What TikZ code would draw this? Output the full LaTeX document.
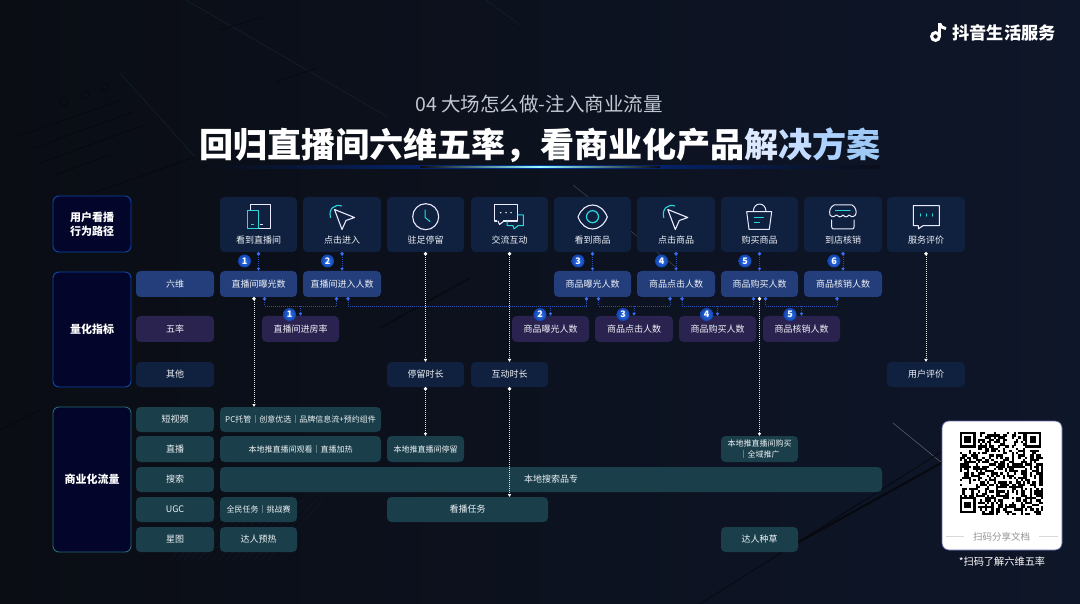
\documentclass[tikz,border=0pt]{standalone}
\usepackage{fontspec}
\setmainfont{Noto Sans CJK SC}
\usetikzlibrary{arrows.meta,calc}
\definecolor{bgL}{HTML}{0A0D14}
\definecolor{bgR}{HTML}{0E1629}
\definecolor{topbox}{HTML}{10203F}
\definecolor{sixbox}{HTML}{233E7A}
\definecolor{fivebox}{HTML}{2A2350}
\definecolor{trafbox}{HTML}{1A3F4A}
\definecolor{headfill}{HTML}{03062A}
\definecolor{headblue}{HTML}{0D47A8}
\definecolor{headteal}{HTML}{2A6B73}
\definecolor{linkblue}{HTML}{3A6CF0}
\definecolor{linkdim}{HTML}{2A4FB4}
\definecolor{txt}{HTML}{EEF1F6}
\definecolor{cy}{HTML}{2BD9DF}
\definecolor{sub}{HTML}{C2C8D2}
\definecolor{faint}{HTML}{161E30}
\definecolor{hatch}{HTML}{131A28}
\definecolor{shadow}{HTML}{07090F}
\definecolor{badgein}{HTML}{2F74F0}
\definecolor{badgeout}{HTML}{1244AE}
\tikzset{
  boxbase/.style={rounded corners=4.5pt,inner sep=0pt,outer sep=0pt,align=center,text=txt,font=\fontsize{9}{11.5}\selectfont},
  headbox/.style={boxbase,fill=headfill,draw=headblue,line width=.9pt,rounded corners=6pt,text=white,font=\fontsize{11}{14}\selectfont\bfseries},
  headtrans/.style={headbox,draw=headteal},
  topitem/.style={boxbase,fill=topbox},
  sixitem/.style={boxbase,fill=sixbox},
  fiveitem/.style={boxbase,fill=fivebox},
  trafitem/.style={boxbase,fill=trafbox},
  smalltraf/.style={trafitem,font=\fontsize{8}{10.5}\selectfont},
  toplabel/.style={text=txt,inner sep=0pt,font=\fontsize{9}{11}\selectfont},
  badge/.style={circle,minimum size=13pt,inner sep=0pt,shade,inner color=badgein,outer color=badgeout,text=white,font=\fontsize{9}{9}\selectfont\bfseries},
  bluelink/.style={draw=linkdim,line width=.5pt,dash pattern=on 1pt off 1pt},
  tolink/.style={bluelink,{Circle[length=3.6pt,color=linkblue,fill=linkblue]}-{Latex[length=3pt,width=3.6pt,color=linkblue,fill=linkblue]}},
  buslink/.style={bluelink,{Circle[length=3.6pt,color=linkblue,fill=linkblue]}-{Circle[length=3.6pt,color=linkblue,fill=linkblue]}},
  droplink/.style={bluelink,-{Latex[length=3pt,width=3.6pt,color=linkblue,fill=linkblue]}},
  whitelink/.style={draw=white!80!gray,line width=.5pt,dash pattern=on 1pt off 1pt,{Circle[length=3.6pt,color=white,fill=white]}-{Latex[length=3pt,width=3.6pt,color=white,fill=white]}},
  icw/.style={draw=white!92!blue,line width=1pt,line join=round,line cap=round},
  icc/.style={draw=cy,line width=1pt,line join=round,line cap=round},
  dec/.style={draw=faint,line width=.6pt},
  decdark/.style={draw=shadow,line width=.8pt},
}
\newcommand\bx[7]{\node[#2,minimum width={(#5-#3)*1pt},minimum height={(#6-#4)*1pt}] (#1) at ({(#3+#5)/2},{(#4+#6)/2}) {#7};}
\begin{document}
\begin{tikzpicture}[x=1pt,y=-1pt]
\useasboundingbox (0,0) rectangle (1080,604);
% background
\shade[left color=bgL,right color=bgR] (0,0) rectangle (1080,604);
% decoration lines
\draw[dec] (186,0) -- (388,117);
\draw[decdark] (220,30) -- (262,17);
\draw[decdark] (276,82) -- (317,68);
\draw[dec] (486,0) -- (520,25);
\draw[decdark] (17,137) -- (121,100);
\draw[decdark] (28,150) -- (133,112);
\draw[decdark] (40,163) -- (145,125);
\draw[decdark] (50,177) -- (110,155);
\draw[decdark] (93,193) -- (195,157);
\draw[dec] (120,73) -- (195,157);
\draw[decdark] (64,102) circle (4);
\draw[decdark] (85,95) circle (4);
\draw[decdark] (105,87) circle (4);
\draw[draw=white!22!bgR,line width=.5pt] (573,185) -- (677,268);
\draw[draw=white!30!bgR,line width=.6pt] (893,423) -- (942,463);
\draw[decdark,line width=2pt] (790,547) -- (943,462);
\draw[decdark,line width=1.2pt] (380,328) -- (470,278);
\draw[decdark] (700,604) -- (960,440);
\draw[decdark] (0,430) -- (40,410);
\foreach \i in {0,...,14} \draw[hatch,line width=.4pt] ({170+\i*7},560) -- ({225+\i*7},500);
% title
\node[text=sub,inner sep=0pt,font=\fontsize{19.5}{22}\selectfont] (subtitle) at (539,104) {04 大场怎么做-注入商业流量};
\node[text=white,inner sep=0pt,font=\fontsize{34.1}{40}\selectfont\bfseries] (title) at (540,145) {回归直播间六维五率，看商业化产品\textcolor[HTML]{DCE9FF}{解}\textcolor[HTML]{C4DCFF}{决}\textcolor[HTML]{AED2FF}{方}\textcolor[HTML]{A0CAF6}{案}};
\shade[left color=bgL,right color=bgL,middle color=blue!70!cyan!70!black,opacity=.8] (200,165.5) rectangle (880,168.5);
\shade[left color=bgL,right color=bgL,middle color=cyan!40!white] (420,166.5) rectangle (660,167.5);
% logo
\draw[white,line width=3pt] (935.5,36.5) circle (3.9);
\draw[white,line width=3.2pt] (939.8,37) -- (939.8,23);
\draw[white,line width=3pt] (939.8,23.5) .. controls (941,27) and (943,28.5) .. (946,28.5);
\node[text=white,inner sep=0pt,font=\fontsize{17.2}{20}\selectfont\bfseries] (logo) at (1004,33) {抖音生活服务};
% heads
\bx{hA}{headbox}{53}{196}{131}{252}{用户看播\\行为路径}
\bx{hB}{headbox}{53}{272}{131}{387}{量化指标}
\bx{hC}{headtrans}{53}{407}{131}{552}{商业化流量}
% row labels
\bx{c6}{sixitem}{136}{271}{214}{297}{六维}
\bx{c5}{fiveitem}{136}{316}{214}{342}{五率}
\bx{cO}{topitem}{136}{362}{214}{387}{其他}
\bx{cS}{trafitem}{136}{407}{214}{432}{短视频}
\bx{cL}{trafitem}{136}{436}{214}{462}{直播}
\bx{cQ}{trafitem}{136}{467}{214}{492}{搜索}
\bx{cU}{trafitem}{136}{497}{214}{522}{UGC}
\bx{cX}{trafitem}{136}{527}{214}{552}{星图}
% top row
\bx{t1}{topitem}{220}{197}{297}{252}{}
\bx{t2}{topitem}{303}{197}{381}{252}{}
\bx{t3}{topitem}{387}{197}{464}{252}{}
\bx{t4}{topitem}{471}{197}{548}{252}{}
\bx{t5}{topitem}{554}{197}{631}{252}{}
\bx{t6}{topitem}{637}{197}{715}{252}{}
\bx{t7}{topitem}{721}{197}{798}{252}{}
\bx{t8}{topitem}{804}{197}{882}{252}{}
\bx{t9}{topitem}{887}{197}{965}{252}{}
\node[toplabel] (l1) at (258.5,240.5) {看到直播间};
\node[toplabel] (l2) at (342,240.5) {点击进入};
\node[toplabel] (l3) at (425.5,240.5) {驻足停留};
\node[toplabel] (l4) at (509.5,240.5) {交流互动};
\node[toplabel] (l5) at (592.5,240.5) {看到商品};
\node[toplabel] (l6) at (676,240.5) {点击商品};
\node[toplabel] (l7) at (759.5,240.5) {购买商品};
\node[toplabel] (l8) at (843,240.5) {到店核销};
\node[toplabel] (l9) at (926,240.5) {服务评价};
% icons
\draw[icw] (250.7,210) -- (250.7,205) -- (270.7,205) -- (270.7,228.3) -- (258.7,228.3);
\draw[icc] (247,210.7) rectangle (258.7,228.3);
\draw[icc] (251.5,224.5) -- (253.5,224.5);
\draw[icw] (260.5,224.5) -- (262.5,224.5);
\foreach \dx in {0,333.3}{
  \begin{scope}[xshift=\dx pt]
  \draw[icw,line width=1.1pt] (334.5,209.5) -- (354.5,217.5) -- (346,220.5) -- (342,229.5) -- cycle;
  \draw[icc,line width=1.1pt] (330.5,217.5) .. controls (328,209) and (335,203.5) .. (341.5,206);
  \end{scope}
}
\draw[icw,line width=1.1pt] (425.7,216.7) circle (13);
\draw[icc] (425.2,210) -- (425.2,217.5) -- (430,221.5);
\draw[icw,line width=1.1pt] (494.7,204.3) rectangle (517.7,221);
\fill[topbox] (497,220) rectangle (503,222);
\draw[icw,line width=1.1pt] (498,221) -- (499.5,224.5) -- (504,221);
\foreach \qx in {500.7,506,511} \fill[white] (\qx,212.7) circle (.8);
\draw[icc] (517.7,215) -- (523.3,215) -- (523.3,225.7) -- (518,225.7) -- (514,229) -- (513,225.7) -- (507,225.7) -- (507,221.5);
\draw[icw,line width=1.1pt] (578,217) .. controls (584,201) and (601,201) .. (607.3,217) .. controls (601,233) and (584,233) .. (578,217) -- cycle;
\draw[icc,line width=1.2pt] (592.5,216.7) circle (6);
\draw[icw] (746.7,211.7) -- (771.7,211.7) -- (769.3,229.3) -- (749,229.3) -- cycle;
\draw[icw] (753.3,211.7) .. controls (753.3,201.5) and (766,201.5) .. (766,211.7);
\draw[icc] (754.3,217.7) -- (763.3,217.7);
\draw[icc] (754.3,222.3) -- (759.3,222.3);
\draw[icw] (834,205) -- (852,205) .. controls (856,207) and (857,212) .. (855.5,215) .. controls (853,217.5) and (850,217) .. (849,215) .. controls (847,217.5) and (845,217.5) .. (843,215) .. controls (841,217.5) and (838,217.5) .. (836.5,215) .. controls (835,217) and (832,217.5) .. (830,215) .. controls (829,211) and (830,207) .. (834,205) -- cycle;
\draw[icc] (835.7,210.7) -- (850,210.7);
\draw[icw] (831.7,220) -- (831.7,227) .. controls (831.7,228.5) and (832.5,229) .. (834,229) -- (852,229) .. controls (853.5,229) and (854,228.5) .. (854,227) -- (854,220);
\draw[icw,line width=1.1pt] (913.3,205.7) -- (939.3,205.7) -- (939.3,225.7) -- (923,225.7) -- (918.3,228.8) -- (918.3,225.7) -- (913.3,225.7) -- cycle;
\foreach \qx in {920,926,932.7} \draw[icc] (\qx,213.8) -- (\qx,216.2);
% six
\bx{m1}{sixitem}{220}{271}{297}{297}{直播间曝光数}
\bx{m2}{sixitem}{303}{271}{381}{297}{直播间进入人数}
\bx{m3}{sixitem}{554}{271}{631}{297}{商品曝光人数}
\bx{m4}{sixitem}{637}{271}{715}{297}{商品点击人数}
\bx{m5}{sixitem}{721}{271}{798}{297}{商品购买人数}
\bx{m6}{sixitem}{804}{271}{882}{297}{商品核销人数}
% five
\bx{r1}{fiveitem}{262}{316}{339}{342}{直播间进房率}
\bx{r2}{fiveitem}{512}{316}{589}{342}{商品曝光人数}
\bx{r3}{fiveitem}{595}{316}{673}{342}{商品点击人数}
\bx{r4}{fiveitem}{679}{316}{756}{342}{商品购买人数}
\bx{r5}{fiveitem}{763}{316}{840}{342}{商品核销人数}
% other
\bx{o1}{topitem}{387}{362}{464}{387}{停留时长}
\bx{o2}{topitem}{471}{362}{548}{387}{互动时长}
\bx{o3}{topitem}{887}{362}{965}{387}{用户评价}
% traffic
\bx{s1}{smalltraf}{220}{407}{381}{432}{PC托管｜创意优选｜品牌信息流+预约组件}
\bx{s2}{smalltraf}{220}{436}{381}{462}{本地推直播间观看｜直播加热}
\bx{s3}{smalltraf}{387}{436}{464}{462}{本地推直播间停留}
\bx{s4}{smalltraf}{721}{436}{798}{462}{本地推直播间购买\\｜全域推广}
\bx{s5}{trafitem}{220}{467}{882}{492}{本地搜索品专}
\bx{s6}{smalltraf}{220}{497}{297}{522}{全民任务｜挑战赛}
\bx{s7}{trafitem}{387}{497}{548}{522}{看播任务}
\bx{s8}{trafitem}{220}{527}{297}{552}{达人预热}
\bx{s9}{trafitem}{721}{527}{798}{552}{达人种草}
% connectors: path to six dimensions
\draw[tolink] (t1.south) -- (m1.north);
\draw[tolink] (t2.south) -- (m2.north);
\draw[tolink] (t5.south) -- (m3.north);
\draw[tolink] (t6.south) -- (m4.north);
\draw[tolink] (t7.south) -- (m5.north);
\draw[tolink] (t8.south) -- (m6.north);
% rate buses
\coordinate (bus) at (0,306);
\draw[buslink] ([xshift=6pt]m1.south) |- ([xshift=-5.5pt]m2.south |- bus) -- ([xshift=-5.5pt]m2.south);
\draw[buslink] ([xshift=6pt]m2.south) |- ([xshift=-6pt]m3.south |- bus) -- ([xshift=-6pt]m3.south);
\draw[buslink] ([xshift=6pt]m3.south) |- ([xshift=-6pt]m4.south |- bus) -- ([xshift=-6pt]m4.south);
\draw[buslink] ([xshift=6pt]m4.south) |- ([xshift=-6pt]m5.south |- bus) -- ([xshift=-6pt]m5.south);
\draw[buslink] ([xshift=6pt]m5.south) |- ([xshift=-6pt]m6.south |- bus) -- ([xshift=-6pt]m6.south);
\draw[droplink] (r1.north |- bus) -- (r1.north);
\draw[droplink] (r2.north |- bus) -- (r2.north);
\draw[droplink] (r3.north |- bus) -- (r3.north);
\draw[droplink] (r4.north |- bus) -- (r4.north);
\draw[droplink] (r5.north |- bus) -- (r5.north);
% white dotted links
\draw[whitelink] (t3.south) -- (o1.north);
\draw[whitelink] (t4.south) -- (o2.north);
\draw[whitelink] (t9.south) -- (o3.north);
\draw[whitelink] (o1.south) -- (s3.north);
\draw[whitelink] (o2.south) -- (o2.south |- s7.north);
\draw[whitelink] ([xshift=-4.5pt]m1.south) -- ([xshift=-4.5pt]m1.south |- s1.north);
\draw[whitelink] (m5.south) -- (s4.north);
% badges
\node[badge] (b1) at (244.5,261) {1};
\node[badge] (b2) at (327.5,261) {2};
\node[badge] (b3) at (578,261) {3};
\node[badge] (b4) at (661.5,261) {4};
\node[badge] (b5) at (745,261) {5};
\node[badge] (b6) at (834,261) {6};
\node[badge] (d1) at (289.5,314.5) {1};
\node[badge] (d2) at (540,314.5) {2};
\node[badge] (d3) at (623,314.5) {3};
\node[badge] (d4) at (706.7,314.5) {4};
\node[badge] (d5) at (790,314.5) {5};
% QR card
\node[fill=white,draw=blue!45!black!60!white,line width=.7pt,rounded corners=7pt,minimum width=120pt,minimum height=129pt,inner sep=0pt] (card) at (1002,485.5) {};
\pgfmathsetseed{2016}
\begin{scope}[shift={(960,432)}]
\def\m{2.243}
\foreach \i in {0,...,36}{\foreach \j in {0,...,36}{
  \pgfmathparse{rnd<0.5?1:0}\pgfmathtruncatemacro\bit{\pgfmathresult}
  \ifnum\bit=1\relax
    \pgfmathtruncatemacro\skipit{((\i<8&&\j<8)||(\i>28&&\j<8)||(\i<8&&\j>28))?1:0}
    \ifnum\skipit=0\relax
      \fill[black] ({\i*\m},{\j*\m}) rectangle ({(\i+1)*\m+.05},{(\j+1)*\m+.05});
    \fi
  \fi
}}
\foreach \cx/\cy in {0/0,65.05/0,0/65.05}{
  \begin{scope}[shift={(\cx,\cy)}]
  \draw[black,line width=2.243pt] (1.12,1.12) rectangle (14.58,14.58);
  \fill[black] (4.49,4.49) rectangle (11.22,11.22);
  \end{scope}
}
\end{scope}
\node[text=black!42,inner sep=0pt,font=\fontsize{9.5}{11}\selectfont] (scan) at (1001.5,536.5) {扫码分享文档};
\coordinate (ruleL) at (946,536.7);
\coordinate (ruleR) at (1057.5,536.7);
\draw[black!15,line width=.6pt] (ruleL) -- (964,536.7);
\draw[black!15,line width=.6pt] (1039,536.7) -- (ruleR);
\node[text=white,inner sep=0pt,font=\fontsize{10.2}{12}\selectfont] (cap) at (1002,562) {*扫码了解六维五率};
\end{tikzpicture}
\end{document}
